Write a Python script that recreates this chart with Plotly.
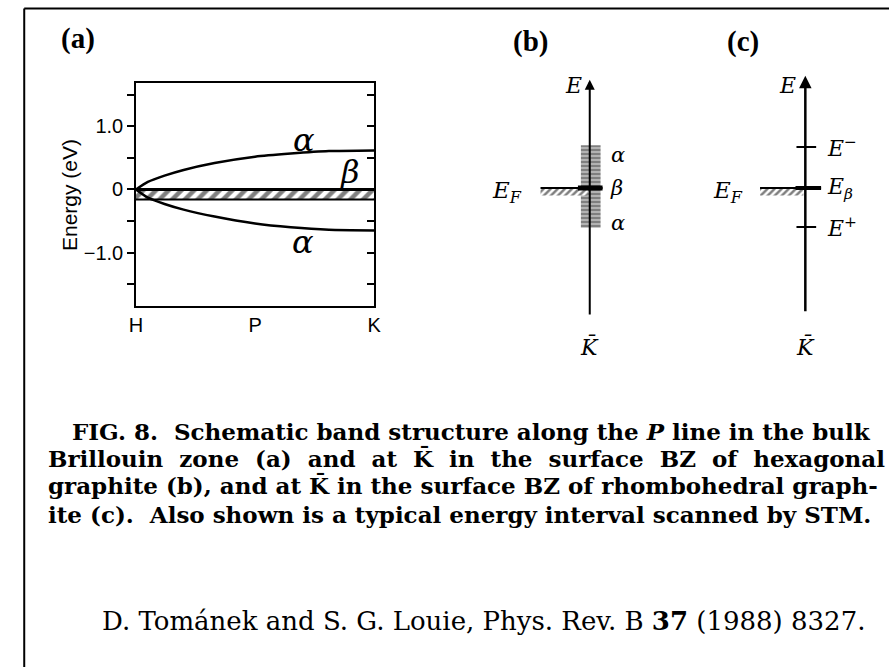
import plotly.graph_objects as go

# ---------------- data ----------------
# (a) bulk bands along the P line, H -> K (fraction of path), energies in eV
k_path = [0.0, 0.05, 0.12, 0.2, 0.33, 0.5, 0.65, 0.81, 1.0]
alpha_upper = [0.0, 0.12, 0.22, 0.31, 0.42, 0.52, 0.57, 0.61, 0.62]
alpha_lower = [0.0, -0.13, -0.23, -0.32, -0.43, -0.54, -0.60, -0.64, -0.65]
k_ticks = [0.0, 0.5, 1.0]
k_labels = ["H", "P", "K"]
e_major_ticks = [-1.0, 0.0, 1.0]
e_major_labels = ["\u22121.0", "0", "1.0"]
e_minor_ticks = [-1.5, -0.5, 0.5, 1.5]
fermi_level = 0.0
stm_window_bottom = -0.16

# (b) hexagonal graphite at K-bar: alpha band extent and beta level
b_alpha_top = 0.68
b_alpha_bottom = -0.63
b_beta = 0.0

# (c) rhombohedral graphite at K-bar: discrete levels
c_level_names = ["E<sup>\u2212</sup>", "E<sub>\u03b2</sub>", "E<sup>+</sup>"]
c_level_values = [0.65, 0.0, -0.62]

# axis extents for the schematic panels
schem_top = 1.72
schem_bottom = -2.03

W, H = 896, 667
SANS = "Liberation Sans"
SERIF = "Liberation Serif"
MATH = "DejaVu Serif"


def px(x):
    return x / W


def py(y):
    return 1 - y / H


fig = go.Figure()

# ---------------- panel (a) ----------------
fig.add_trace(go.Scatter(x=[k_path[0], k_path[-1]], y=[fermi_level, fermi_level],
                         mode="lines", line=dict(color="black", width=3),
                         xaxis="x", yaxis="y", showlegend=False, hoverinfo="skip"))
fig.add_trace(go.Scatter(x=[k_path[0], k_path[-1]], y=[stm_window_bottom, stm_window_bottom],
                         mode="lines", line=dict(color="black", width=2),
                         fill="tonexty", fillcolor="white",
                         fillpattern=dict(shape="/", fgcolor="black", bgcolor="white",
                                          size=9, solidity=0.5),
                         xaxis="x", yaxis="y", showlegend=False, hoverinfo="skip"))
for band in (alpha_upper, alpha_lower):
    fig.add_trace(go.Scatter(x=k_path, y=band, mode="lines",
                             line=dict(color="black", width=2.5, shape="spline", smoothing=0.6),
                             xaxis="x", yaxis="y", showlegend=False, hoverinfo="skip"))
# right-hand frame with inward ticks
fig.add_trace(go.Scatter(x=[0.5], y=[0], mode="markers", marker=dict(opacity=0),
                         xaxis="x", yaxis="y4", showlegend=False, hoverinfo="skip"))

# ---------------- panel (b) ----------------
fig.add_trace(go.Scatter(x=[-9, 11, 11, -9, -9],
                         y=[b_alpha_bottom, b_alpha_bottom, b_alpha_top, b_alpha_top, b_alpha_bottom],
                         mode="lines", line=dict(width=0), fill="toself", fillcolor="white",
                         fillpattern=dict(shape="-", fgcolor="black", bgcolor="white",
                                          size=4, solidity=0.8),
                         xaxis="x2", yaxis="y2", showlegend=False, hoverinfo="skip"))
fig.add_trace(go.Scatter(x=[-50, -2, -2, -50, -50],
                         y=[b_beta - 0.12, b_beta - 0.12, b_beta, b_beta, b_beta - 0.12],
                         mode="lines", line=dict(width=0), fill="toself", fillcolor="white",
                         fillpattern=dict(shape="/", fgcolor="black", bgcolor="white",
                                          size=5, solidity=0.5),
                         xaxis="x2", yaxis="y2", showlegend=False, hoverinfo="skip"))
fig.add_trace(go.Scatter(x=[-50, 13], y=[b_beta, b_beta], mode="lines",
                         line=dict(color="black", width=2),
                         xaxis="x2", yaxis="y2", showlegend=False, hoverinfo="skip"))
fig.add_trace(go.Scatter(x=[-12, 13], y=[b_beta, b_beta], mode="lines",
                         line=dict(color="black", width=5),
                         xaxis="x2", yaxis="y2", showlegend=False, hoverinfo="skip"))

# ---------------- panel (c) ----------------
fig.add_trace(go.Scatter(x=[-46, -2, -2, -46, -46],
                         y=[-0.12, -0.12, 0, 0, -0.12],
                         mode="lines", line=dict(width=0), fill="toself", fillcolor="white",
                         fillpattern=dict(shape="/", fgcolor="black", bgcolor="white",
                                          size=5, solidity=0.5),
                         xaxis="x3", yaxis="y3", showlegend=False, hoverinfo="skip"))
fig.add_trace(go.Scatter(x=[-46, 16], y=[c_level_values[1]] * 2, mode="lines",
                         line=dict(color="black", width=2),
                         xaxis="x3", yaxis="y3", showlegend=False, hoverinfo="skip"))
fig.add_trace(go.Scatter(x=[-10, 16], y=[c_level_values[1]] * 2, mode="lines",
                         line=dict(color="black", width=4),
                         xaxis="x3", yaxis="y3", showlegend=False, hoverinfo="skip"))
for v in (c_level_values[0], c_level_values[2]):
    fig.add_trace(go.Scatter(x=[-9, 11], y=[v, v], mode="lines",
                             line=dict(color="black", width=2),
                             xaxis="x3", yaxis="y3", showlegend=False, hoverinfo="skip"))

# ---------------- annotations ----------------
ann = []


def label(text, x, y, xref, yref, size, family=SERIF, xanchor="center", yanchor="middle", angle=0):
    ann.append(dict(text=text, x=x, y=y, xref=xref, yref=yref, showarrow=False,
                    xanchor=xanchor, yanchor=yanchor, textangle=angle,
                    font=dict(family=family, size=size, color="black")))


# panel tags
label("<b>(a)</b>", px(72), py(38), "paper", "paper", 29)
label("<b>(b)</b>", px(532), py(42), "paper", "paper", 29)
label("<b>(c)</b>", px(748), py(42), "paper", "paper", 29)

# panel (a) text
label("Energy (eV)", px(64), py(195), "paper", "paper", 21, SANS, angle=-90)
label("<i>\u03b1</i>", 0.705, 0.79, "x", "y", 32, MATH)
label("<i>\u03b1</i>", 0.70, -0.83, "x", "y", 32, MATH)
label("<i>\u03b2</i>", 0.90, 0.28, "x", "y", 32, MATH)
label("E<sub>F</sub>", 1.02, -0.12, "x", "y", 20, SANS, xanchor="left")

# panel (b) arrow and text
ann.append(dict(x=0, y=schem_top, ax=0, ay=schem_bottom, xref="x2", yref="y2",
                axref="x2", ayref="y2", showarrow=True, arrowhead=2, arrowsize=1,
                arrowwidth=2, arrowcolor="black", text=""))
label("<i>E</i>", -17, 1.63, "x2", "y2", 22, MATH)
label("<i>E<sub>F</sub></i>", -84, -0.06, "x2", "y2", 23, MATH)
label("<i>\u03b1</i>", 20, 0.52, "x2", "y2", 21, MATH, xanchor="left")
label("<i>\u03b2</i>", 19, 0.0, "x2", "y2", 21, MATH, xanchor="left")
label("<i>\u03b1</i>", 20, -0.56, "x2", "y2", 21, MATH, xanchor="left")
label("<i>K\u0304</i>", 0, -2.52, "x2", "y2", 22, MATH)

# panel (c) arrow and text
ann.append(dict(x=0, y=1.78, ax=0, ay=-1.98, xref="x3", yref="y3",
                axref="x3", ayref="y3", showarrow=True, arrowhead=2, arrowsize=1,
                arrowwidth=2.5, arrowcolor="black", text=""))
label("<i>E</i>", -18, 1.63, "x3", "y3", 22, MATH)
label("<i>E<sub>F</sub></i>", -79, -0.06, "x3", "y3", 23, MATH)
for name, v in zip(c_level_names, c_level_values):
    label("<i>" + name + "</i>", 20, v, "x3", "y3", 22, MATH, xanchor="left")
label("<i>K\u0304</i>", 0, -2.52, "x3", "y3", 22, MATH)

# caption
CAPTION_FONT = "DejaVu Serif"
cap_lines = [
    "<b>FIG. 8.  Schematic band structure along the <i>P</i> line in the bulk</b>",
    "<b>Brillouin\u00a0 zone\u00a0 (a)\u00a0 and\u00a0 at\u00a0 K\u0304\u00a0 in\u00a0 the\u00a0 surface\u00a0 BZ\u00a0 of\u00a0 hexagonal</b>",
    "<b>graphite (b), and at K\u0304 in the surface BZ of rhombohedral graph-</b>",
    "<b>ite (c).  Also shown is a typical energy interval scanned by STM.</b>",
]
cap_x = [64, 40, 40, 40]
cap_y = [432, 459, 486, 514]
for t, x, y in zip(cap_lines, cap_x, cap_y):
    label(t, px(x), py(y), "paper", "paper", 23, CAPTION_FONT, xanchor="left")
label("D. Tom\u00e1nek and S. G. Louie, Phys. Rev. B <b>37</b> (1988) 8327.",
      px(94), py(621), "paper", "paper", 26, CAPTION_FONT, xanchor="left")

# ---------------- layout ----------------
axis_font = dict(family=SANS, size=20, color="black")
hidden = dict(visible=False, showgrid=False, zeroline=False, fixedrange=True)
sch_dom = [py(360), py(60)]
sch_range = [(188 - 360) / 63, (188 - 60) / 63]

fig.update_layout(
    width=W, height=H, autosize=False,
    margin=dict(l=0, r=0, t=0, b=0),
    paper_bgcolor="white", plot_bgcolor="rgba(0,0,0,0)",
    showlegend=False,
    xaxis=dict(domain=[px(131), px(373)], range=[0, 1], anchor="y",
               showline=True, linecolor="black", linewidth=1.5, mirror=True,
               showgrid=False, zeroline=False, ticks="",
               tickvals=k_ticks, ticktext=k_labels, tickfont=axis_font),
    yaxis=dict(domain=[py(306), py(83)], range=[-1.849, 1.690], anchor="x",
               showline=True, linecolor="black", linewidth=1.5,
               showgrid=False, zeroline=False, ticks="outside", ticklen=7,
               tickwidth=1.5, tickcolor="black",
               tickvals=e_major_ticks, ticktext=e_major_labels, tickfont=axis_font,
               minor=dict(tickvals=e_minor_ticks, ticks="outside", ticklen=7,
                          tickwidth=1.5, tickcolor="black", showgrid=False)),
    yaxis4=dict(overlaying="y", side="right", anchor="x", range=[-1.849, 1.690],
                showline=True, linecolor="black", linewidth=1.5,
                showgrid=False, zeroline=False, ticks="inside", ticklen=7,
                tickwidth=1.5, tickcolor="black", tickvals=e_major_ticks,
                showticklabels=False,
                minor=dict(tickvals=e_minor_ticks, ticks="inside", ticklen=7,
                           tickwidth=1.5, tickcolor="black", showgrid=False)),
    xaxis2=dict(domain=[px(482), px(662)], range=[-110, 70], anchor="y2", **hidden),
    yaxis2=dict(domain=sch_dom, range=sch_range, anchor="x2", **hidden),
    xaxis3=dict(domain=[px(731), px(891)], range=[-80, 80], anchor="y3", **hidden),
    yaxis3=dict(domain=sch_dom, range=sch_range, anchor="x3", **hidden),
    annotations=ann,
    shapes=[
        dict(type="line", xref="paper", yref="paper", x0=px(17.5), x1=1.0,
             y0=py(8.5), y1=py(8.5), line=dict(color="black", width=2)),
        dict(type="line", xref="paper", yref="paper", x0=px(17.5), x1=px(17.5),
             y0=py(8.5), y1=0, line=dict(color="black", width=2)),
    ],
)

fig.write_html("out.html")
